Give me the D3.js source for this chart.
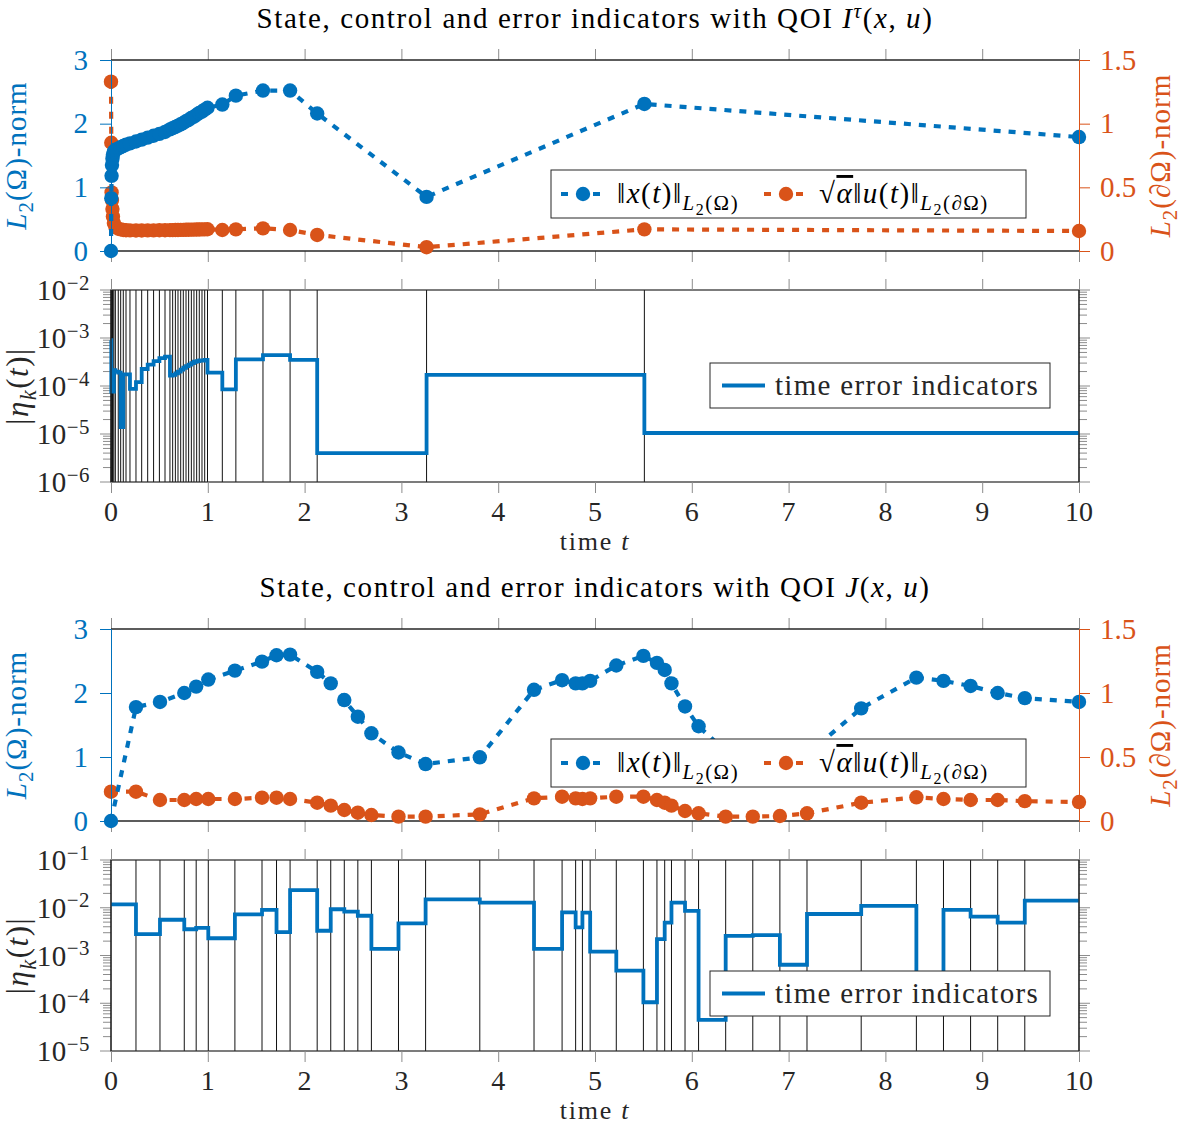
<!DOCTYPE html>
<html>
<head>
<meta charset="utf-8">
<script src="https://cdn.jsdelivr.net/npm/d3@7"></script>
<style>
  body { margin: 0; background: #fff; }
</style>
</head>
<body>
<svg id="fig" width="1184" height="1124"></svg>
<script>
// ---- data: QOI I^tau (top pair of panels) ----
const topT = [0, 0.003, 0.006, 0.01, 0.015, 0.02, 0.03, 0.045, 0.075, 0.1, 0.127, 0.155, 0.196,
  0.258, 0.317, 0.379, 0.44, 0.5, 0.558, 0.609, 0.637, 0.665, 0.692, 0.72, 0.747, 0.775, 0.802,
  0.83, 0.857, 0.885, 0.912, 0.94, 0.968, 0.997, 1.15, 1.29, 1.57, 1.85, 2.13, 3.26, 5.51, 10];
const topX = [0, 0.83, 1.18, 1.35, 1.45, 1.51, 1.56, 1.59, 1.61, 1.63, 1.65, 1.67, 1.69,
  1.72, 1.75, 1.78, 1.81, 1.84, 1.87, 1.91, 1.93, 1.95, 1.97, 1.99, 2.01, 2.04, 2.06,
  2.09, 2.11, 2.14, 2.17, 2.19, 2.22, 2.25, 2.30, 2.44, 2.52, 2.52, 2.16, 0.85, 2.31, 1.79];
const topU = [1.33, 0.85, 0.46, 0.40, 0.33, 0.27, 0.22, 0.19, 0.175, 0.17, 0.165, 0.163, 0.162,
  0.161, 0.161, 0.162, 0.162, 0.163, 0.163, 0.164, 0.164, 0.165, 0.165, 0.166, 0.166, 0.167, 0.167,
  0.168, 0.168, 0.169, 0.169, 0.170, 0.170, 0.171, 0.165, 0.17, 0.178, 0.165, 0.126, 0.03, 0.17, 0.157];
// one indicator per time interval
const topEta = [9e-4, 7.6e-5, 2.0e-4, 1.05e-4, 1.7e-4, 7.6e-5, 2.15e-4, 2.0e-4, 1.9e-4, 1.4e-5,
  1.75e-4, 1.75e-4, 8.7e-5, 1.2e-4, 2.26e-4, 2.8e-4, 3.3e-4, 3.8e-4, 4.1e-4, 1.64e-4,
  1.7e-4, 1.84e-4, 2.0e-4, 2.2e-4, 2.4e-4, 2.6e-4, 2.8e-4, 3.0e-4, 3.2e-4, 3.3e-4,
  3.4e-4, 3.4e-4, 3.5e-4, 1.9e-4, 8.5e-5, 3.6e-4, 4.4e-4, 3.5e-4, 4.0e-6, 1.7e-4, 1.05e-5];

// ---- data: QOI J (bottom pair of panels) ----
const botT = [0, 0.258, 0.506, 0.757, 0.88, 1.005, 1.28, 1.56, 1.71, 1.85,
  2.13, 2.27, 2.41, 2.55, 2.69, 2.97, 3.25, 3.81, 4.37, 4.66,
  4.80, 4.87, 4.95, 5.22, 5.50, 5.64, 5.72, 5.79, 5.93, 6.07,
  6.35, 6.63, 6.91, 7.19, 7.75, 8.32, 8.60, 8.88, 9.16, 9.44, 10];
const botX = [0, 1.78, 1.86, 2.0, 2.10, 2.21, 2.35, 2.49, 2.59, 2.60,
  2.33, 2.15, 1.89, 1.63, 1.37, 1.07, 0.89, 0.995, 2.05, 2.20,
  2.15, 2.15, 2.19, 2.43, 2.58, 2.47, 2.36, 2.15, 1.79, 1.48,
  1.09, 0.9, 0.9, 1.04, 1.76, 2.24, 2.19, 2.11, 2.0, 1.92, 1.86];
const botU = [0.229, 0.229, 0.164, 0.164, 0.172, 0.172, 0.172, 0.182, 0.182, 0.172,
  0.143, 0.12, 0.086, 0.065, 0.047, 0.034, 0.034, 0.052, 0.177, 0.19,
  0.177, 0.172, 0.177, 0.19, 0.19, 0.164, 0.143, 0.12, 0.078, 0.06,
  0.034, 0.034, 0.039, 0.06, 0.143, 0.185, 0.172, 0.164, 0.164, 0.155, 0.148];
const botEta = [1.18e-2, 2.8e-3, 5.6e-3, 3.55e-3, 3.8e-3, 2.3e-3, 7.3e-3, 9.0e-3, 3.1e-3, 2.35e-2,
  3.3e-3, 9.3e-3, 8.3e-3, 6.8e-3, 1.38e-3, 4.7e-3, 1.5e-2, 1.28e-2, 1.38e-3, 8.0e-3,
  3.9e-3, 7.9e-3, 1.21e-3, 4.8e-4, 1.05e-4, 2.2e-3, 4.9e-3, 1.28e-2, 8.6e-3, 4.5e-5,
  2.57e-3, 2.66e-3, 6.4e-4, 7.4e-3, 1.09e-2, 1.5e-4, 9.0e-3, 6.5e-3, 4.9e-3, 1.41e-2];

// ---- ticks ----
const timeTicks = [0, 1, 2, 3, 4, 5, 6, 7, 8, 9, 10];
const leftTicks = [0, 1, 2, 3];
const rightTicks = [0, 0.5, 1, 1.5];

const BLUE = '#0072BD';
const ORANGE = '#D95319';
const INK = '#262626';
const TICK = '#8c8c8c';
const SERIF = "'Liberation Serif', 'DejaVu Serif', serif";
const FS = 29;       // tick labels
const TXT = 29;      // titles, legends, axis labels
const LS = 1.5;      // letter spacing (CM is wider than Liberation)
const DASH = '7,8';
const X0 = 111, X1 = 1079;

const svg = d3.select('#fig');
svg.append('rect').attr('width', 1184).attr('height', 1124).attr('fill', '#fff');

const xs = d3.scaleLinear().domain([0, 10]).range([X0, X1]);

// 텍스트 + 위/아래 첨자 (style: i=italic, _=sub, 2=subsub, ^=sup, o=overline)
function rich(parent, x, y, parts, size, opts = {}) {
  const t = parent.append('text')
    .attr('x', x).attr('y', y)
    .attr('font-family', SERIF).attr('font-size', size)
    .attr('letter-spacing', opts.ls == null ? LS : opts.ls)
    .attr('fill', opts.fill || '#000')
    .attr('text-anchor', opts.anchor || 'start');
  if (opts.rotate) t.attr('transform', `rotate(${opts.rotate},${x},${y})`);
  let cur = 0;
  parts.forEach(p => {
    const [txt, st = ''] = Array.isArray(p) ? p : [p];
    let off = 0, fs = 1;
    if (st.includes('2')) { off = 0.42; fs = 0.55; }
    else if (st.includes('_')) { off = 0.25; fs = 0.72; }
    else if (st.includes('^')) { off = -0.36; fs = 0.72; }
    const sp = t.append('tspan').attr('dy', off * size - cur).attr('font-size', fs * size).text(txt);
    if (st.includes('i')) sp.attr('font-style', 'italic');
    if (st.includes('o')) sp.attr('text-decoration', 'overline');
    cur = off * size;
  });
  return t;
}

function timeTickMarks(top, bottom) {
  const g = svg.append('g');
  g.append('g').attr('transform', `translate(0,${top})`)
    .call(d3.axisTop(xs).tickValues(timeTicks).tickSize(11).tickSizeOuter(0).tickFormat(''));
  g.append('g').attr('transform', `translate(0,${bottom})`)
    .call(d3.axisBottom(xs).tickValues(timeTicks).tickSize(11).tickSizeOuter(0).tickFormat(''));
  g.selectAll('.domain').remove();
  g.selectAll('line').attr('stroke', TICK);
}

function timeLabels(bottom) {
  timeTicks.forEach(d => {
    svg.append('text').attr('x', xs(d)).attr('y', bottom + 39)
      .attr('text-anchor', 'middle').attr('font-family', SERIF).attr('font-size', 28)
      .attr('fill', INK).text(d);
  });
  rich(svg, 595, bottom + 68, ['time ', ['t', 'i']], 26, { anchor: 'middle', fill: INK, ls: 1.8 });
}

function stateLegend(lx, ly, lw, lh) {
  const g = svg.append('g');
  g.append('rect').attr('x', lx).attr('y', ly).attr('width', lw).attr('height', lh)
    .attr('fill', '#fff').attr('stroke', INK).attr('stroke-width', 1);
  const cy = ly + lh / 2;
  [[lx + 10, BLUE], [lx + 213, ORANGE]].forEach(([sx, c]) => {
    g.append('line').attr('x1', sx).attr('x2', sx + 40).attr('y1', cy).attr('y2', cy)
      .attr('stroke', c).attr('stroke-width', 4.2).attr('stroke-dasharray', '7,9');
    g.append('circle').attr('cx', sx + 22).attr('cy', cy).attr('r', 7.2).attr('fill', c);
  });
  rich(g, lx + 66, cy + 9, ['‖', ['x', 'i'], '(', ['t', 'i'], ')‖', ['L', 'i_'], ['2', '2'], ['(Ω)', '_']], TXT);
  rich(g, lx + 268, cy + 9, ['√', ['α', 'io'], '‖', ['u', 'i'], '(', ['t', 'i'], ')‖',
    ['L', 'i_'], ['2', '2'], ['(∂Ω)', '_']], TXT);
}

function statePanel(top, bottom, T, X, U, title, legendY) {
  const yl = d3.scaleLinear().domain([0, 3]).range([bottom, top]);
  const yr = d3.scaleLinear().domain([0, 1.5]).range([bottom, top]);

  rich(svg, 595, top - 32, title, TXT, { anchor: 'middle', fill: '#000', ls: 1.6 });
  timeTickMarks(top, bottom);
  [top, bottom].forEach(y => svg.append('line').attr('x1', X0).attr('x2', X1)
    .attr('y1', y).attr('y2', y).attr('stroke', INK).attr('stroke-width', 1.6));

  const series = [[U, yr, ORANGE], [X, yl, BLUE]];
  series.forEach(([vals, ys, c]) => {
    const pts = T.map((t, i) => [t, vals[i]]);
    svg.append('path').datum(pts)
      .attr('d', d3.line().x(d => xs(d[0])).y(d => ys(d[1])))
      .attr('fill', 'none').attr('stroke', c).attr('stroke-width', 4.2)
      .attr('stroke-dasharray', DASH);
    svg.append('g').selectAll('circle').data(pts).join('circle')
      .attr('cx', d => xs(d[0])).attr('cy', d => ys(d[1])).attr('r', 7.2).attr('fill', c);
  });

  const la = svg.append('g').attr('transform', `translate(${X0},0)`)
    .call(d3.axisLeft(yl).tickValues(leftTicks).tickSize(11).tickSizeOuter(0).tickPadding(12)
      .tickFormat(d3.format('d')));
  const ra = svg.append('g').attr('transform', `translate(${X1},0)`)
    .call(d3.axisRight(yr).tickValues(rightTicks).tickSize(11).tickSizeOuter(0).tickPadding(10)
      .tickFormat(d => String(d)));
  [[la, BLUE], [ra, ORANGE]].forEach(([a, c]) => {
    a.select('.domain').attr('stroke', c);
    a.selectAll('line').attr('stroke', c);
    a.selectAll('text').attr('fill', c).attr('font-family', SERIF).attr('font-size', FS);
  });

  const mid = (top + bottom) / 2;
  rich(svg, 26, mid, [['L', 'i'], ['2', '_'], '(Ω)-norm'], TXT, { anchor: 'middle', fill: BLUE, rotate: -90, ls: 1 });
  rich(svg, 1170, mid, [['L', 'i'], ['2', '_'], '(∂Ω)-norm'], TXT, { anchor: 'middle', fill: ORANGE, rotate: -90, ls: 1 });

  stateLegend(551, legendY, 475, 48);
}

function errorPanel(top, bottom, T, Eta, eMin, eMax, legendY) {
  const ys = d3.scaleLog().domain([eMin, eMax]).range([bottom, top]);
  const g = svg.append('g');

  timeTickMarks(top, bottom);

  // minor / major log ticks on both sides
  const lo = Math.round(Math.log10(eMin)), hi = Math.round(Math.log10(eMax));
  const major = d3.range(lo, hi + 1).map(k => Math.pow(10, k));
  const minor = [];
  d3.range(lo, hi).forEach(k => d3.range(2, 10).forEach(m => minor.push(m * Math.pow(10, k))));
  [[X0, -1], [X1, 1]].forEach(([ax, s]) => {
    g.append('g').selectAll('line').data(minor).join('line')
      .attr('x1', ax).attr('x2', ax + s * 8).attr('y1', d => ys(d)).attr('y2', d => ys(d))
      .attr('stroke', TICK);
    g.append('g').selectAll('line').data(major).join('line')
      .attr('x1', ax).attr('x2', ax + s * 11).attr('y1', d => ys(d)).attr('y2', d => ys(d))
      .attr('stroke', TICK);
  });
  major.forEach(d => {
    rich(g, 90, ys(d) + 10, ['10', ['−' + Math.abs(Math.log10(d)).toFixed(0), '^']], FS,
      { anchor: 'end', fill: INK, ls: 0.5 });
  });

  // time grid lines
  g.append('g').selectAll('line').data(T).join('line')
    .attr('x1', d => xs(d)).attr('x2', d => xs(d)).attr('y1', top).attr('y2', bottom)
    .attr('stroke', '#111').attr('stroke-width', 1);

  const pts = Eta.map((e, i) => [T[i], e]);
  pts.push([T[T.length - 1], Eta[Eta.length - 1]]);
  g.append('path').datum(pts)
    .attr('d', d3.line().curve(d3.curveStepAfter).x(d => xs(d[0])).y(d => ys(d[1])))
    .attr('fill', 'none').attr('stroke', BLUE).attr('stroke-width', 3.8);

  g.append('rect').attr('x', X0).attr('y', top).attr('width', X1 - X0).attr('height', bottom - top)
    .attr('fill', 'none').attr('stroke', INK).attr('stroke-width', 1.2);

  rich(svg, 28, (top + bottom) / 2, ['|', ['η', 'i'], ['k', 'i_'], '(', ['t', 'i'], ')|'], 31,
    { anchor: 'middle', fill: INK, rotate: -90, ls: 1.5 });

  // legend
  const lg = svg.append('g');
  lg.append('rect').attr('x', 710).attr('y', legendY).attr('width', 340).attr('height', 45)
    .attr('fill', '#fff').attr('stroke', INK).attr('stroke-width', 1);
  const cy = legendY + 22.5;
  lg.append('line').attr('x1', 722).attr('x2', 765).attr('y1', cy).attr('y2', cy)
    .attr('stroke', BLUE).attr('stroke-width', 4.2);
  rich(lg, 775, cy + 9, ['time error indicators'], TXT, { fill: INK, ls: 1.3 });

  timeLabels(bottom);
}

const title1 = ['State, control and error indicators with QOI ', ['I', 'i'], ['τ', 'i^'], '(', ['x', 'i'], ', ', ['u', 'i'], ')'];
const title2 = ['State, control and error indicators with QOI ', ['J', 'i'], '(', ['x', 'i'], ', ', ['u', 'i'], ')'];

statePanel(60, 251, topT, topX, topU, title1, 170);
errorPanel(290, 482, topT, topEta, 1e-6, 1e-2, 363);
statePanel(629, 821, botT, botX, botU, title2, 739);
errorPanel(860, 1051, botT, botEta, 1e-5, 1e-1, 971);
</script>
</body>
</html>
